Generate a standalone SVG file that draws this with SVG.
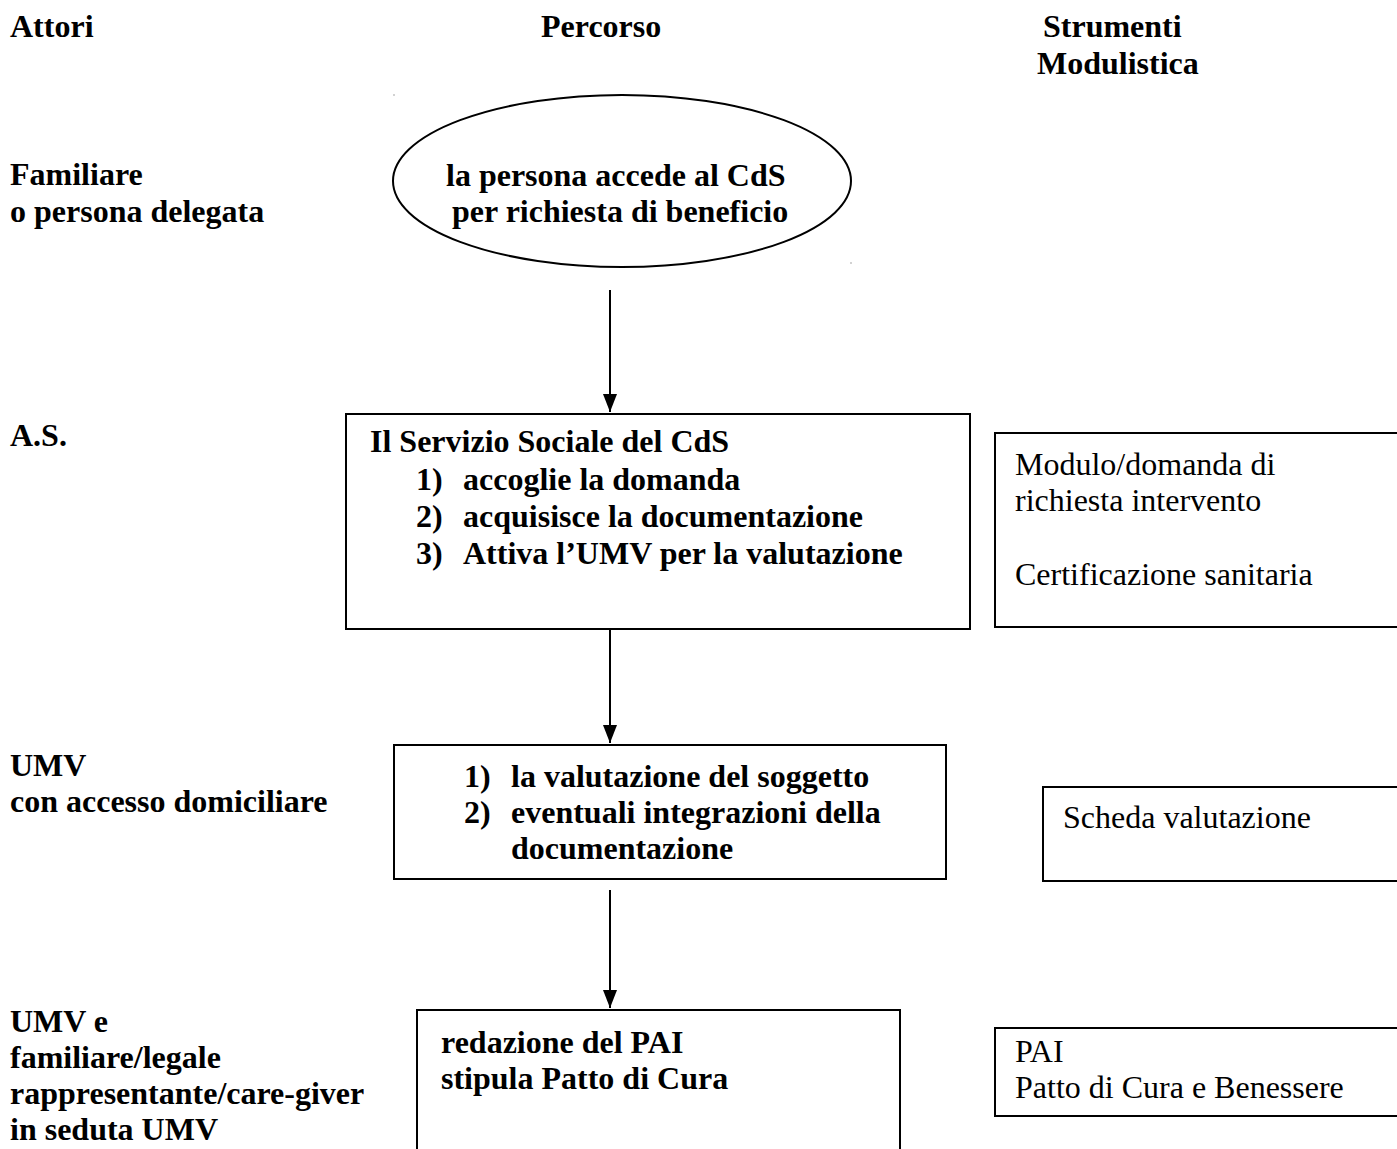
<svg xmlns="http://www.w3.org/2000/svg" width="1397" height="1149" viewBox="0 0 1397 1149">
<style>
.b{font-family:"Liberation Serif","Times New Roman",serif;font-weight:bold;font-size:32px;fill:#000}
.r{font-family:"Liberation Serif","Times New Roman",serif;font-size:32px;fill:#000}
.box{fill:#fff;stroke:#000;stroke-width:2}
.conn{stroke:#000;stroke-width:2;fill:none}
</style>
<defs>
<marker id="arr" markerWidth="18" markerHeight="14" refX="18" refY="7" orient="auto" markerUnits="userSpaceOnUse" viewBox="0 0 18 14">
<path d="M0,0 L18,7 L0,14 Z" fill="#000"/>
</marker>
</defs>
<rect width="1397" height="1149" fill="#fff"/>

<g id="headers">
<text class="b" x="10" y="37">Attori</text>
<text class="b" x="541" y="37">Percorso</text>
<text class="b" x="1043" y="37">Strumenti</text>
<text class="b" x="1037" y="74">Modulistica</text>
</g>

<g id="actors">
<text class="b" x="10" y="185">Familiare</text>
<text class="b" x="10" y="222">o persona delegata</text>
<text class="b" x="10" y="446">A.S.</text>
<text class="b" x="10" y="776">UMV</text>
<text class="b" x="10" y="812">con accesso domiciliare</text>
<text class="b" x="10" y="1032">UMV e</text>
<text class="b" x="10" y="1068">familiare/legale</text>
<text class="b" x="10" y="1104">rappresentante/care-giver</text>
<text class="b" x="10" y="1140">in seduta UMV</text>
</g>

<g id="start">
<ellipse cx="622" cy="181" rx="229" ry="86" fill="#fff" stroke="#000" stroke-width="2"/>
<text class="b" x="446" y="186">la persona accede al CdS</text>
<text class="b" x="452" y="222">per richiesta di beneficio</text>
</g>

<g id="as-step">
<rect class="box" x="346" y="414" width="624" height="215"/>
<text class="b" x="370" y="452">Il Servizio Sociale del CdS</text>
<text class="b" x="416" y="490">1)</text><text class="b" x="463" y="490">accoglie la domanda</text>
<text class="b" x="416" y="527">2)</text><text class="b" x="463" y="527">acquisisce la documentazione</text>
<text class="b" x="416" y="564">3)</text><text class="b" x="463" y="564">Attiva l’UMV per la valutazione</text>
</g>

<g id="as-tools">
<rect class="box" x="995" y="433" width="410" height="194"/>
<text class="r" x="1015" y="475">Modulo/domanda di</text>
<text class="r" x="1015" y="511">richiesta intervento</text>
<text class="r" x="1015" y="585">Certificazione sanitaria</text>
</g>

<g id="umv-step">
<rect class="box" x="394" y="745" width="552" height="134"/>
<text class="b" x="464" y="787">1)</text><text class="b" x="511" y="787">la valutazione del soggetto</text>
<text class="b" x="464" y="823">2)</text><text class="b" x="511" y="823">eventuali integrazioni della</text>
<text class="b" x="511" y="859">documentazione</text>
</g>

<g id="umv-tools">
<rect class="box" x="1043" y="787" width="362" height="94"/>
<text class="r" x="1063" y="828">Scheda valutazione</text>
</g>

<g id="pai-step">
<rect class="box" x="417" y="1010" width="483" height="150"/>
<text class="b" x="441" y="1053">redazione del PAI</text>
<text class="b" x="441" y="1089">stipula Patto di Cura</text>
</g>

<g id="pai-tools">
<rect class="box" x="995" y="1028" width="410" height="88"/>
<text class="r" x="1015" y="1062">PAI</text>
<text class="r" x="1015" y="1098">Patto di Cura e Benessere</text>
</g>

<g id="connectors">
<line class="conn" x1="610" y1="290" x2="610" y2="412" marker-end="url(#arr)"/>
<line class="conn" x1="610" y1="629" x2="610" y2="743" marker-end="url(#arr)"/>
<line class="conn" x1="610" y1="890" x2="610" y2="1008" marker-end="url(#arr)"/>
</g>

<g id="specks" fill="#999">
<circle cx="394" cy="95" r="0.8"/>
<circle cx="851" cy="263" r="0.8"/>
</g>
</svg>
